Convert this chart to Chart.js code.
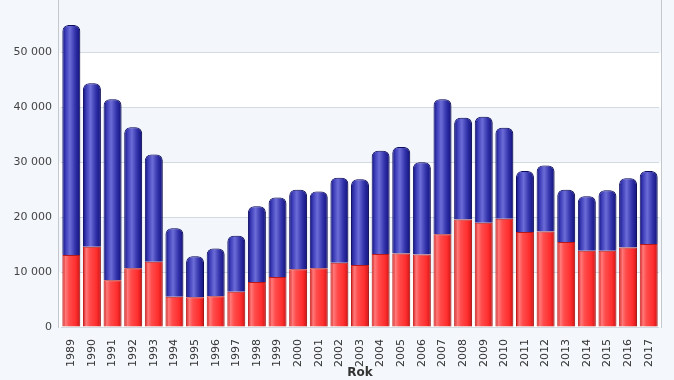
<!DOCTYPE html>
<html>
<head>
<meta charset="utf-8">
<script src="https://cdn.jsdelivr.net/npm/chart.js@4.4.1/dist/chart.umd.min.js"></script>
<style>
    html, body { margin: 0; padding: 0; background: #f4f7fb; }
    #wrap { position: relative; width: 674px; height: 380px; overflow: hidden; }
    #chart { position: absolute; left: 0; top: -18px; }
</style>
</head>
<body>
<div id="wrap"><canvas id="chart" width="674" height="398"></canvas></div>
<script>
const years = ['1989', '1990', '1991', '1992', '1993', '1994', '1995', '1996', '1997', '1998',
    '1999', '2000', '2001', '2002', '2003', '2004', '2005', '2006', '2007', '2008',
    '2009', '2010', '2011', '2012', '2013', '2014', '2015', '2016', '2017'];

// spodní (červená) část sloupce
const redValues = [13100, 14600, 8500, 10700, 11900, 5500, 5400, 5600, 6400, 8200,
    9100, 10500, 10700, 11700, 11300, 13300, 13400, 13200, 16900, 19600,
    19000, 19700, 17300, 17400, 15500, 13900, 13900, 14500, 15100];

// horní (modrá) část sloupce
const blueValues = [41900, 29800, 33000, 25700, 19500, 12500, 7500, 8700, 10200, 13800,
    14500, 14500, 14000, 15500, 15600, 18800, 19400, 16800, 24600, 18500,
    19300, 16600, 11100, 12000, 9500, 9900, 11000, 12600, 13300];

const yTicks = [0, 10000, 20000, 30000, 40000, 50000, 60000];
const xTitle = 'Rok';

function formatNumber(v) {
    return String(v).replace(/\B(?=(\d{3})+(?!\d))/g, ' ');
}

// válcový přechod přes šířku sloupce (podle datasetu)
const barStops = [
    [[0, '#cf1414'], [0.18, '#ff7a7a'], [0.38, '#ff4c4c'], [0.75, '#ff2e2e'], [1, '#cc1414']],
    [[0, '#10107a'], [0.18, '#3c3cb8'], [0.42, '#6c6cd8'], [0.72, '#3232aa'], [1, '#10107c']]
];

const background = {
    id: 'background',
    beforeDraw(chart) {
        const { ctx, chartArea } = chart;
        const y = chart.scales.y;
        const left = chartArea.left - 3;
        const right = chartArea.right + 2;
        ctx.save();
        ctx.fillStyle = '#f4f7fb';
        ctx.fillRect(0, 0, chart.width, chart.height);
        for (let i = 0; i < yTicks.length - 1; i++) {
            const top = y.getPixelForValue(yTicks[i + 1]);
            const bottom = y.getPixelForValue(yTicks[i]);
            ctx.fillStyle = (i % 2 === 0) ? '#ffffff' : '#f3f7fb';
            ctx.fillRect(left, top, right - left, bottom - top);
        }
        ctx.restore();
    },
    beforeDatasetsDraw(chart) {
        const ctx = chart.ctx;
        chart.data.datasets.forEach((ds, di) => {
            chart.getDatasetMeta(di).data.forEach(el => {
                const half = el.width / 2;
                const g = ctx.createLinearGradient(el.x - half, 0, el.x + half, 0);
                barStops[di].forEach(s => g.addColorStop(s[0], s[1]));
                el.options = Object.assign({}, el.options, { backgroundColor: g });
            });
        });
        ctx.save();
        ctx.shadowColor = 'rgba(0,0,0,0.2)';
        ctx.shadowOffsetX = 2;
        ctx.shadowOffsetY = 0;
        ctx.shadowBlur = 3;
    },
    afterDatasetsDraw(chart) {
        const { ctx, chartArea } = chart;
        ctx.restore();
        ctx.save();
        ctx.strokeStyle = '#c4c8cc';
        ctx.lineWidth = 1;
        ctx.beginPath();
        ctx.moveTo(chartArea.left - 2.5, 0);
        ctx.lineTo(chartArea.left - 2.5, chartArea.bottom + 1);
        ctx.moveTo(chartArea.right + 2.5, 0);
        ctx.lineTo(chartArea.right + 2.5, chartArea.bottom + 1);
        ctx.stroke();
        ctx.restore();
    }
};

new Chart(document.getElementById('chart'), {
    type: 'bar',
    data: {
        labels: years,
        datasets: [
            {
                data: redValues,
                backgroundColor: '#ff3333',
                borderColor: '#c41a1a',
                borderWidth: 1,
                borderRadius: 0,
                categoryPercentage: 1,
                barPercentage: 0.87
            },
            {
                data: blueValues,
                backgroundColor: '#3333aa',
                borderColor: '#0e0e66',
                borderWidth: 1,
                borderRadius: { topLeft: 6, topRight: 6 },
                categoryPercentage: 1,
                barPercentage: 0.87
            }
        ]
    },
    options: {
        responsive: false,
        animation: false,
        layout: { padding: { top: 1, right: 15, left: 0, bottom: 0 } },
        plugins: {
            legend: { display: false },
            tooltip: { enabled: false }
        },
        scales: {
            x: {
                stacked: true,
                grid: { display: false },
                border: { display: false },
                ticks: {
                    color: '#333',
                    font: { family: 'DejaVu Sans', size: 11 },
                    minRotation: 90,
                    maxRotation: 90,
                    autoSkip: false,
                    padding: 4
                },
                title: {
                    display: true,
                    text: xTitle,
                    color: '#333',
                    font: { family: 'DejaVu Sans', size: 12, weight: 'bold' },
                    padding: { top: 0, bottom: 0 }
                },
                afterFit: scale => { scale.height = 53; }
            },
            y: {
                stacked: true,
                min: 0,
                max: 60000,
                afterBuildTicks: scale => { scale.ticks = yTicks.map(v => ({ value: v })); },
                grid: { color: '#d2dbe2', lineWidth: 1, drawTicks: false },
                border: { display: false },
                ticks: {
                    color: '#444',
                    font: { family: 'DejaVu Sans', size: 11 },
                    padding: 9,
                    callback: v => formatNumber(v)
                },
                afterFit: scale => { scale.width = 61; }
            }
        }
    },
    plugins: [background]
});
</script>
</body>
</html>
